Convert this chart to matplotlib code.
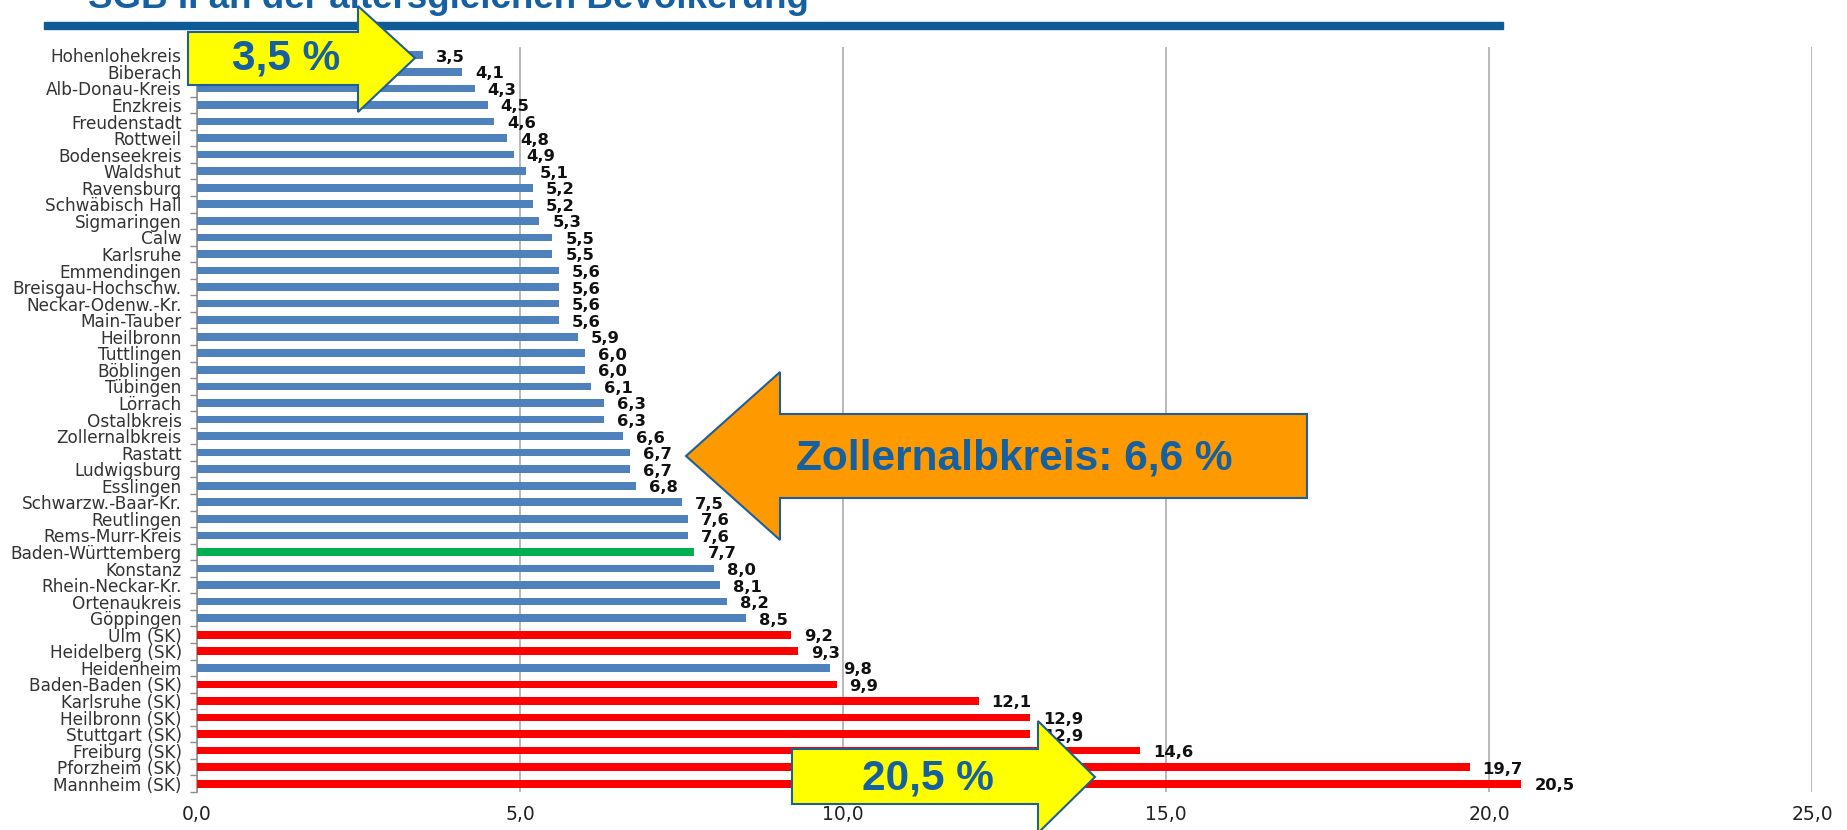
import matplotlib
matplotlib.use("Agg")
import matplotlib.pyplot as plt
from matplotlib.patches import Polygon, Rectangle
from matplotlib.ticker import FixedLocator, MultipleLocator

# data (SGB II share in %)
regions = [
    "Hohenlohekreis", "Biberach", "Alb-Donau-Kreis", "Enzkreis", "Freudenstadt",
    "Rottweil", "Bodenseekreis", "Waldshut", "Ravensburg", "Schwäbisch Hall",
    "Sigmaringen", "Calw", "Karlsruhe", "Emmendingen", "Breisgau-Hochschw.",
    "Neckar-Odenw.-Kr.", "Main-Tauber", "Heilbronn", "Tuttlingen", "Böblingen",
    "Tübingen", "Lörrach", "Ostalbkreis", "Zollernalbkreis", "Rastatt",
    "Ludwigsburg", "Esslingen", "Schwarzw.-Baar-Kr.", "Reutlingen", "Rems-Murr-Kreis",
    "Baden-Württemberg", "Konstanz", "Rhein-Neckar-Kr.", "Ortenaukreis", "Göppingen",
    "Ulm (SK)", "Heidelberg (SK)", "Heidenheim", "Baden-Baden (SK)", "Karlsruhe (SK)",
    "Heilbronn (SK)", "Stuttgart (SK)", "Freiburg (SK)", "Pforzheim (SK)", "Mannheim (SK)",
]
values = [
    3.5, 4.1, 4.3, 4.5, 4.6,
    4.8, 4.9, 5.1, 5.2, 5.2,
    5.3, 5.5, 5.5, 5.6, 5.6,
    5.6, 5.6, 5.9, 6.0, 6.0,
    6.1, 6.3, 6.3, 6.6, 6.7,
    6.7, 6.8, 7.5, 7.6, 7.6,
    7.7, 8.0, 8.1, 8.2, 8.5,
    9.2, 9.3, 9.8, 9.9, 12.1,
    12.9, 12.9, 14.6, 19.7, 20.5,
]
state = "Baden-Württemberg"
x_ticks = [0, 5, 10, 15, 20, 25]

title = "SGB II an der altersgleichen Bevölkerung"
callouts = ["3,5 %", "Zollernalbkreis: 6,6 %", "20,5 %"]

W, H = 1847, 830
fig = plt.figure(figsize=(W / 100, H / 100), dpi=100)
ax = fig.add_axes([197 / W, 1 - 792 / H, (1812 - 197) / W, (792 - 47) / H])

def bar_color(name):
    if name == state:
        return "#00B050"
    if name.endswith("(SK)"):
        return "#FF0000"
    return "#4F81BD"

ypos = list(range(len(regions)))
ax.barh(ypos, values, height=0.46, color=[bar_color(r) for r in regions], zorder=3)

for y, v in zip(ypos, values):
    ax.annotate(f"{v:.1f}".replace(".", ","), (v, y), xytext=(13, -2),
                textcoords="offset pixels", va="center", ha="left",
                fontsize=11.8, fontweight="bold", color="#111111", zorder=4)

ax.set_xlim(0, 25)
ax.set_ylim(len(regions) - 0.5, -0.5)
ax.xaxis.set_major_locator(FixedLocator(x_ticks))
ax.set_xticklabels([f"{t:.1f}".replace(".", ",") for t in x_ticks],
                   fontsize=13.5, color="#222222")
ax.tick_params(axis="x", length=0, pad=9)
ax.set_yticks(ypos)
ax.set_yticklabels(regions, fontsize=12.2, color="#333333")
ax.tick_params(axis="y", which="major", length=0, pad=11)
ax.yaxis.set_minor_locator(MultipleLocator(1, offset=0.5))
ax.tick_params(axis="y", which="minor", length=5, color="#8C8C8C", width=1)
ax.grid(axis="x", color="#A6A6A6", linewidth=1.1, zorder=0)
for s in ["top", "right", "bottom"]:
    ax.spines[s].set_visible(False)
ax.spines["left"].set_color("#8C8C8C")
ax.spines["left"].set_linewidth(1.1)

# overlay in pixel coordinates for title bar and callout arrows
ov = fig.add_axes([0, 0, 1, 1], zorder=10)
ov.set_xlim(0, W)
ov.set_ylim(H, 0)
ov.axis("off")

blue = "#1560A0"
ov.text(88, 8, title, ha="left", va="baseline", fontsize=26.5, fontweight="bold",
        color=blue, family="Liberation Sans")
ov.add_patch(Rectangle((44, 22), 1459, 7, color="#0F5B96"))

edge = "#1F5E9A"
arrow1 = [(188, 32), (358, 32), (358, 6), (415, 58), (358, 112), (358, 85), (188, 85)]
arrow2 = [(686, 456), (780, 372), (780, 414), (1307, 414), (1307, 498), (780, 498), (780, 540)]
arrow3 = [(792, 749), (1038, 749), (1038, 721), (1095, 777), (1038, 833), (1038, 804), (792, 804)]
ov.add_patch(Polygon(arrow1, closed=True, facecolor="#FFFF00", edgecolor=edge, lw=1.5))
ov.add_patch(Polygon(arrow2, closed=True, facecolor="#FF9900", edgecolor=edge, lw=1.5))
ov.add_patch(Polygon(arrow3, closed=True, facecolor="#FFFF00", edgecolor=edge, lw=1.5))

txt_kw = dict(ha="center", va="center", fontweight="bold", color=blue,
              family="Liberation Sans")
ov.text(286, 59, callouts[0], fontsize=30.5, **txt_kw)
ov.text(1014, 458, callouts[1], fontsize=30.5, **txt_kw)
ov.text(928, 778, callouts[2], fontsize=30.5, **txt_kw)

fig.savefig("out.png", dpi=100)
